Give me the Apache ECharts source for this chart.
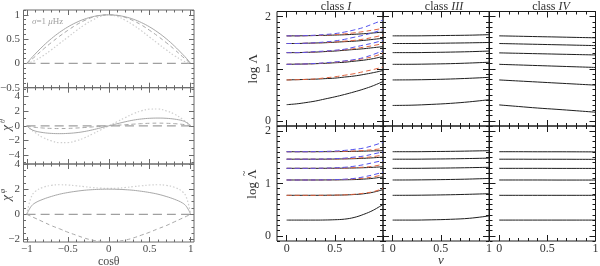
<!DOCTYPE html>
<html><head><meta charset="utf-8">
<script src="https://cdn.jsdelivr.net/npm/echarts@6.0.0/dist/echarts.min.js"></script>
<style>html,body{margin:0;padding:0;background:#fff;}#chart{width:600px;height:266px;}</style>
</head><body><div id="chart"></div>
<script>
// ---------------- data: left panels ----------------
const cosTheta = [-1,-0.95,-0.9,-0.8,-0.7,-0.6,-0.5,-0.4,-0.3,-0.2,-0.1,0,0.1,0.2,0.3,0.4,0.5,0.6,0.7,0.8,0.9,0.95,1];
const thetaSolid  = [0,0.10,0.19,0.36,0.51,0.64,0.75,0.84,0.91,0.96,0.99,1,0.99,0.96,0.91,0.84,0.75,0.64,0.51,0.36,0.19,0.10,0];
const thetaDashed = [0,0.07,0.14,0.29,0.43,0.56,0.68,0.79,0.88,0.95,0.99,1,0.99,0.95,0.88,0.79,0.68,0.56,0.43,0.29,0.14,0.07,0];
const thetaDotted = [0,0.025,0.06,0.16,0.28,0.41,0.54,0.67,0.79,0.89,0.97,1,0.97,0.89,0.79,0.67,0.54,0.41,0.28,0.16,0.06,0.025,0];
const chiThSolid  = [0,-0.45,-0.7,-0.92,-1.03,-1.06,-1.03,-0.94,-0.78,-0.55,-0.28,0,0.28,0.55,0.78,0.94,1.03,1.06,1.03,0.92,0.7,0.45,0];
const chiThDashed = [0,-0.12,-0.2,-0.3,-0.35,-0.37,-0.35,-0.3,-0.23,-0.15,-0.08,0,0.08,0.15,0.23,0.3,0.35,0.37,0.35,0.3,0.2,0.12,0];
const chiThDotted = [0,-0.5,-0.9,-1.6,-2.05,-2.3,-2.28,-2.05,-1.65,-1.12,-0.56,0,0.56,1.12,1.65,2.05,2.28,2.3,2.05,1.6,0.9,0.5,0];
const chiPhSolid  = [0,0.6,0.9,1.2,1.42,1.6,1.73,1.83,1.91,1.96,1.99,2,1.99,1.96,1.91,1.83,1.73,1.6,1.42,1.2,0.9,0.6,0];
const chiPhDashed = [0,-0.15,-0.3,-0.6,-0.9,-1.15,-1.42,-1.65,-1.88,-2.05,-2.15,-2.2,-2.15,-2.05,-1.88,-1.65,-1.42,-1.15,-0.9,-0.6,-0.3,-0.15,0];
const chiPhDotted = [0,1.3,1.8,2.15,2.3,2.35,2.33,2.27,2.2,2.13,2.08,2.06,2.08,2.13,2.2,2.27,2.33,2.35,2.3,2.15,1.8,1.3,0];
const zeroLevel = [0, 0];

// ---------------- data: right panels ----------------
const nuFine = [0,0.1,0.2,0.3,0.4,0.5,0.6,0.7,0.8,0.9,1];
const nuCoarse = [0,0.2,0.4,0.6,0.8,1];

const classI_logL_black = [
  [0.31,0.325,0.35,0.38,0.42,0.46,0.505,0.555,0.61,0.675,0.755],
  [0.785,0.79,0.795,0.80,0.81,0.82,0.84,0.86,0.89,0.925,0.965],
  [1.085,1.088,1.092,1.097,1.105,1.115,1.125,1.145,1.165,1.195,1.235],
  [1.31,1.31,1.315,1.32,1.33,1.34,1.355,1.37,1.385,1.405,1.425],
  [1.485,1.485,1.49,1.495,1.50,1.51,1.52,1.53,1.545,1.565,1.585],
  [1.632,1.632,1.635,1.638,1.642,1.647,1.653,1.662,1.673,1.688,1.705]
];
const classI_logL_red = [
  [0.785,0.79,0.795,0.805,0.825,0.845,0.875,0.905,0.945,0.985,1.035],
  [1.085,1.088,1.092,1.10,1.11,1.125,1.145,1.165,1.195,1.235,1.295],
  [1.31,1.31,1.315,1.325,1.335,1.35,1.365,1.385,1.415,1.445,1.485],
  [1.485,1.485,1.49,1.495,1.505,1.515,1.53,1.545,1.57,1.605,1.645],
  [1.632,1.632,1.635,1.64,1.647,1.655,1.67,1.69,1.715,1.745,1.775]
];
const classI_logL_blue = [
  [1.085,1.088,1.093,1.102,1.115,1.13,1.15,1.175,1.215,1.275,1.345],
  [1.31,1.31,1.315,1.33,1.34,1.355,1.375,1.415,1.455,1.495,1.545],
  [1.485,1.485,1.49,1.50,1.515,1.535,1.565,1.605,1.645,1.695,1.755],
  [1.632,1.632,1.637,1.645,1.658,1.675,1.705,1.745,1.795,1.865,1.935]
];
const classI_logLt_black = [
  [0.30,0.30,0.30,0.30,0.302,0.307,0.318,0.35,0.41,0.49,0.60],
  [0.774,0.774,0.774,0.774,0.775,0.777,0.781,0.789,0.804,0.834,0.884],
  [1.067,1.067,1.067,1.067,1.068,1.069,1.071,1.075,1.084,1.10,1.127],
  [1.29,1.29,1.29,1.29,1.291,1.292,1.294,1.297,1.302,1.31,1.32],
  [1.465,1.465,1.465,1.465,1.466,1.468,1.471,1.475,1.482,1.492,1.505],
  [1.608,1.608,1.608,1.608,1.609,1.61,1.612,1.615,1.619,1.624,1.628]
];
const classI_logLt_red = [
  [0.774,0.774,0.774,0.774,0.775,0.778,0.783,0.794,0.814,0.844,0.904],
  [1.067,1.067,1.067,1.067,1.069,1.072,1.077,1.087,1.102,1.127,1.167],
  [1.29,1.29,1.29,1.29,1.291,1.293,1.297,1.303,1.313,1.33,1.37],
  [1.465,1.465,1.465,1.465,1.466,1.469,1.474,1.482,1.495,1.515,1.545],
  [1.608,1.608,1.608,1.608,1.609,1.611,1.615,1.622,1.632,1.648,1.668]
];
const classI_logLt_blue = [
  [1.067,1.067,1.067,1.068,1.07,1.074,1.082,1.097,1.127,1.167,1.217],
  [1.29,1.29,1.29,1.291,1.294,1.30,1.31,1.33,1.36,1.40,1.44],
  [1.465,1.465,1.465,1.466,1.469,1.475,1.485,1.505,1.525,1.565,1.605],
  [1.608,1.608,1.608,1.61,1.614,1.621,1.633,1.653,1.678,1.728,1.788]
];
const classIII_logL = [
  [0.295,0.30,0.315,0.335,0.365,0.405],
  [0.785,0.787,0.793,0.803,0.817,0.835],
  [1.085,1.086,1.091,1.098,1.11,1.125],
  [1.31,1.31,1.314,1.32,1.328,1.34],
  [1.485,1.485,1.488,1.493,1.498,1.505],
  [1.632,1.632,1.635,1.64,1.645,1.655]
];
const classIV_logL = [
  [0.305,0.275,0.245,0.22,0.193,0.165],
  [0.785,0.765,0.745,0.725,0.705,0.685],
  [1.085,1.073,1.061,1.049,1.037,1.025],
  [1.305,1.297,1.289,1.281,1.273,1.265],
  [1.485,1.477,1.469,1.461,1.453,1.445],
  [1.632,1.625,1.617,1.61,1.602,1.595]
];
const classIII_logLt = [
  [0.30,0.30,0.305,0.315,0.335,0.38],
  [0.774,0.775,0.779,0.785,0.794,0.805],
  [1.067,1.068,1.072,1.077,1.085,1.097],
  [1.29,1.29,1.293,1.297,1.303,1.31],
  [1.465,1.465,1.468,1.472,1.478,1.485],
  [1.608,1.608,1.611,1.615,1.621,1.628]
];
const classIV_logLt = [
  [0.30,0.30,0.30,0.30,0.30,0.30],
  [0.774,0.774,0.774,0.774,0.774,0.774],
  [1.067,1.067,1.067,1.066,1.066,1.066],
  [1.29,1.29,1.29,1.289,1.289,1.288],
  [1.465,1.465,1.464,1.464,1.463,1.462],
  [1.608,1.608,1.607,1.607,1.606,1.605]
];

// ---------------- tick labels ----------------
const cosTicks = [-1,-0.5,0,0.5,1];
const thetaTicks = [-0.5,0,0.5,1];
const chiThTicks = [-4,-2,0,2,4];
const chiPhTicks = [-2,0,2,4];
const nuTicks = [0,0.5,1];
const logTicks = [0,1,2];

// ---------------- build ----------------
const SERIF = 'Liberation Serif';
function steps(a, b, s) { const r = []; for (let k = Math.round(a / s); k * s <= b + 1e-9; k++) r.push(+(k * s).toFixed(4)); return r; }
const fmt = v => String(v).replace('-', '\u2212');

const option = { animation: false, backgroundColor: '#fff', grid: [], xAxis: [], yAxis: [], series: [], graphic: [] };

function addPanel(p) {
  const gi = option.grid.length;
  option.grid.push({ left: p.left, top: p.top, width: p.width, height: p.height, show: true,
    borderColor: p.color, borderWidth: 1, backgroundColor: 'transparent', outerBoundsMode: 'none', containLabel: false });
  const xi = option.xAxis.length, yi = option.yAxis.length;
  const lab = (vals, show, margin) => show ? { show: true, customValues: vals, color: p.text, fontFamily: SERIF,
    fontSize: p.fs, margin: margin, formatter: fmt } : { show: false };
  const base = (pos, min, max, ticks, len, label) => ({ type: 'value', gridIndex: gi, position: pos, min: min, max: max,
    axisLine: { show: false, onZero: false }, splitLine: { show: false },
    axisTick: { show: true, inside: true, length: len, customValues: ticks, lineStyle: { color: p.color, width: 1 } },
    axisLabel: label });
  const xMinor = steps(p.xmin, p.xmax, p.xMinorStep).filter(v => v >= p.xTickFrom - 1e-9 && v <= p.xTickTo + 1e-9);
  const yMinor = steps(p.ymin, p.ymax, p.yMinorStep);
  option.xAxis.push(
    base('bottom', p.xmin, p.xmax, p.xMajor, p.majLen, lab(p.xMajor, p.xLabels, p.xMargin)),
    base('bottom', p.xmin, p.xmax, xMinor, p.minLen, { show: false }),
    base('top', p.xmin, p.xmax, p.xMajor, p.majLen, { show: false }),
    base('top', p.xmin, p.xmax, xMinor, p.minLen, { show: false }));
  const yMain = base('left', p.ymin, p.ymax, p.yMajor, p.majLen, lab(p.yMajor, p.yLabels !== false, p.yMargin));
  if (p.yName) Object.assign(yMain, { name: p.yName, nameLocation: 'middle', nameGap: p.nameGap,
    nameTextStyle: { color: p.text, fontFamily: SERIF, fontSize: 13 } });
  if (p.xName) Object.assign(option.xAxis[xi], { name: p.xName, nameLocation: 'middle', nameGap: p.xNameGap,
    nameTextStyle: { color: p.text, fontFamily: SERIF, fontSize: 12 } });
  option.yAxis.push(yMain,
    base('left', p.ymin, p.ymax, yMinor, p.minLen, { show: false }),
    base('right', p.ymin, p.ymax, p.yMajor, p.majLen, { show: false }),
    base('right', p.ymin, p.ymax, yMinor, p.minLen, { show: false }));
  return { x: xi, y: yi };
}

function addLine(ax, xs, ys, color, type, width, z) {
  option.series.push({ type: 'line', xAxisIndex: ax.x, yAxisIndex: ax.y, data: xs.map((x, i) => [x, ys[i]]),
    showSymbol: false, smooth: 0.4, z: z || 2, lineStyle: { color: color, width: width || 1, type: type } });
}

// left panels
const LP = { left: 23.5, width: 170.5, xmin: -1.04, xmax: 1.04, xMajor: cosTicks, xMinorStep: 0.1, xTickFrom: -1, xTickTo: 1,
  color: '#6a6a6a', text: '#4a4a4a', fs: 11, majLen: 5, minLen: 2.5, yMargin: 3.5, xMargin: 2, nameGap: 11 };
const pTheta = addPanel(Object.assign({}, LP, { top: 10, height: 77.7, ymin: -0.5, ymax: 1.1, yMajor: thetaTicks, yMinorStep: 0.1, yName: 'Θ' }));
const pChiTh = addPanel(Object.assign({}, LP, { top: 87.7, height: 76.3, ymin: -5.2, ymax: 5.2, yMajor: chiThTicks, yMinorStep: 1 }));
const pChiPh = addPanel(Object.assign({}, LP, { top: 164, height: 78, ymin: -2.2, ymax: 4, yMajor: chiPhTicks, yMinorStep: 0.5, xLabels: true,
  xName: 'cosθ', xNameGap: 11 }));

const GRAY = '#a8a8a8', LIGHT = '#cfcfcf';
[[pTheta, thetaSolid, thetaDashed, thetaDotted], [pChiTh, chiThSolid, chiThDashed, chiThDotted], [pChiPh, chiPhSolid, chiPhDashed, chiPhDotted]]
  .forEach(([ax, s, d, o]) => {
    addLine(ax, [cosTheta[0], cosTheta[cosTheta.length - 1]], zeroLevel, '#a0a0a0', [9, 5], 1.2, 1);
    addLine(ax, cosTheta, o, LIGHT, [1.5, 2], 1.2);
    addLine(ax, cosTheta, d, GRAY, [4, 3], 1);
    addLine(ax, cosTheta, s, GRAY, 'solid', 1);
  });

// right panels
const RP = { width: 106, xmin: -0.1, xmax: 1, xMajor: nuTicks, xMinorStep: 0.1, xTickFrom: 0, xTickTo: 1,
  ymin: -0.1, ymax: 2.1, yMajor: logTicks, yMinorStep: 0.1, color: '#1a1a1a', text: '#333', fs: 12, majLen: 6, minLen: 3,
  yMargin: 6, xMargin: 2, nameGap: 17 };
const lefts = [277, 383, 489.5];
const tops = [{ top: 11.5, height: 114.5 }, { top: 126, height: 115 }];
const pan = [];
for (let r = 0; r < 2; r++) {
  pan.push([]);
  for (let c = 0; c < 3; c++) {
    const cfg = Object.assign({}, RP, tops[r], { left: lefts[c], xLabels: r === 1, yLabels: c === 0 });
    if (c === 0 && r === 0) cfg.yName = 'log Λ';
    pan[r].push(addPanel(cfg));
  }
}
const BLACK = '#1e1e1e', RED = '#e2643f', BLUE = '#5252ee';
classI_logL_black.forEach(a => addLine(pan[0][0], nuFine, a, BLACK, 'solid', 1, 2));
classI_logL_red.forEach(a => addLine(pan[0][0], nuFine, a, RED, [5, 3], 1, 3));
classI_logL_blue.forEach(a => addLine(pan[0][0], nuFine, a, BLUE, [5, 3], 1, 4));
classI_logLt_black.forEach(a => addLine(pan[1][0], nuFine, a, BLACK, 'solid', 1, 2));
classI_logLt_red.forEach(a => addLine(pan[1][0], nuFine, a, RED, [5, 3], 1, 3));
classI_logLt_blue.forEach(a => addLine(pan[1][0], nuFine, a, BLUE, [5, 3], 1, 4));
classIII_logL.forEach(a => addLine(pan[0][1], nuCoarse, a, BLACK, 'solid', 1, 2));
classIV_logL.forEach(a => addLine(pan[0][2], nuCoarse, a, BLACK, 'solid', 1, 2));
classIII_logLt.forEach(a => addLine(pan[1][1], nuCoarse, a, BLACK, 'solid', 1, 2));
classIV_logLt.forEach(a => addLine(pan[1][2], nuCoarse, a, BLACK, 'solid', 1, 2));

// texts
const titleRich = { n: { fontFamily: SERIF, fontSize: 12, fill: '#333' }, i: { fontFamily: SERIF, fontSize: 12, fontStyle: 'italic', fill: '#333' } };
[['I', 336], ['III', 444], ['IV', 551]].forEach(([num, x]) => {
  option.graphic.push({ type: 'text', x: x, y: 7, style: { text: '{n|class }{i|' + num + '}', rich: titleRich, align: 'center', verticalAlign: 'middle' } });
});
option.graphic.push({ type: 'text', x: 441, y: 261, style: { text: 'ν', fontFamily: SERIF, fontSize: 13, fontStyle: 'italic', fill: '#333', align: 'center', verticalAlign: 'middle' } });
option.graphic.push({ type: 'text', x: 32, y: 22, style: { text: '{i|σ}{n|=1 }{i|μ}{n|Hz}', verticalAlign: 'middle',
  rich: { n: { fontFamily: SERIF, fontSize: 9, fill: '#a0a0a0' }, i: { fontFamily: SERIF, fontSize: 9, fontStyle: 'italic', fill: '#a0a0a0' } } } });

// rotated axis names built from pieces (superscripts / tilde)
function chiName(x, y, sup) {
  option.graphic.push({ type: 'group', x: x, y: y, rotation: Math.PI / 2, children: [
    { type: 'text', x: -2, y: 0, style: { text: 'χ', fontFamily: SERIF, fontSize: 13, fontStyle: 'italic', fill: '#4a4a4a', align: 'center', verticalAlign: 'middle' } },
    { type: 'text', x: 5, y: -4, style: { text: sup, fontFamily: SERIF, fontSize: 8, fontStyle: 'italic', fill: '#4a4a4a', align: 'center', verticalAlign: 'middle' } }
  ] });
}
chiName(7, 126, 'θ');
chiName(7, 196, 'φ');
option.graphic.push({ type: 'group', x: 253, y: 184, rotation: Math.PI / 2, children: [
  { type: 'text', x: 0, y: 0, style: { text: 'log Λ', fontFamily: SERIF, fontSize: 13, fill: '#333', align: 'center', verticalAlign: 'middle' } },
  { type: 'text', x: 10.5, y: -8.5, style: { text: '~', fontFamily: SERIF, fontSize: 10, fill: '#333', align: 'center', verticalAlign: 'middle' } }
] });

const chart = echarts.init(document.getElementById('chart'), null, { renderer: 'canvas' });
chart.setOption(option);
</script></body></html>
